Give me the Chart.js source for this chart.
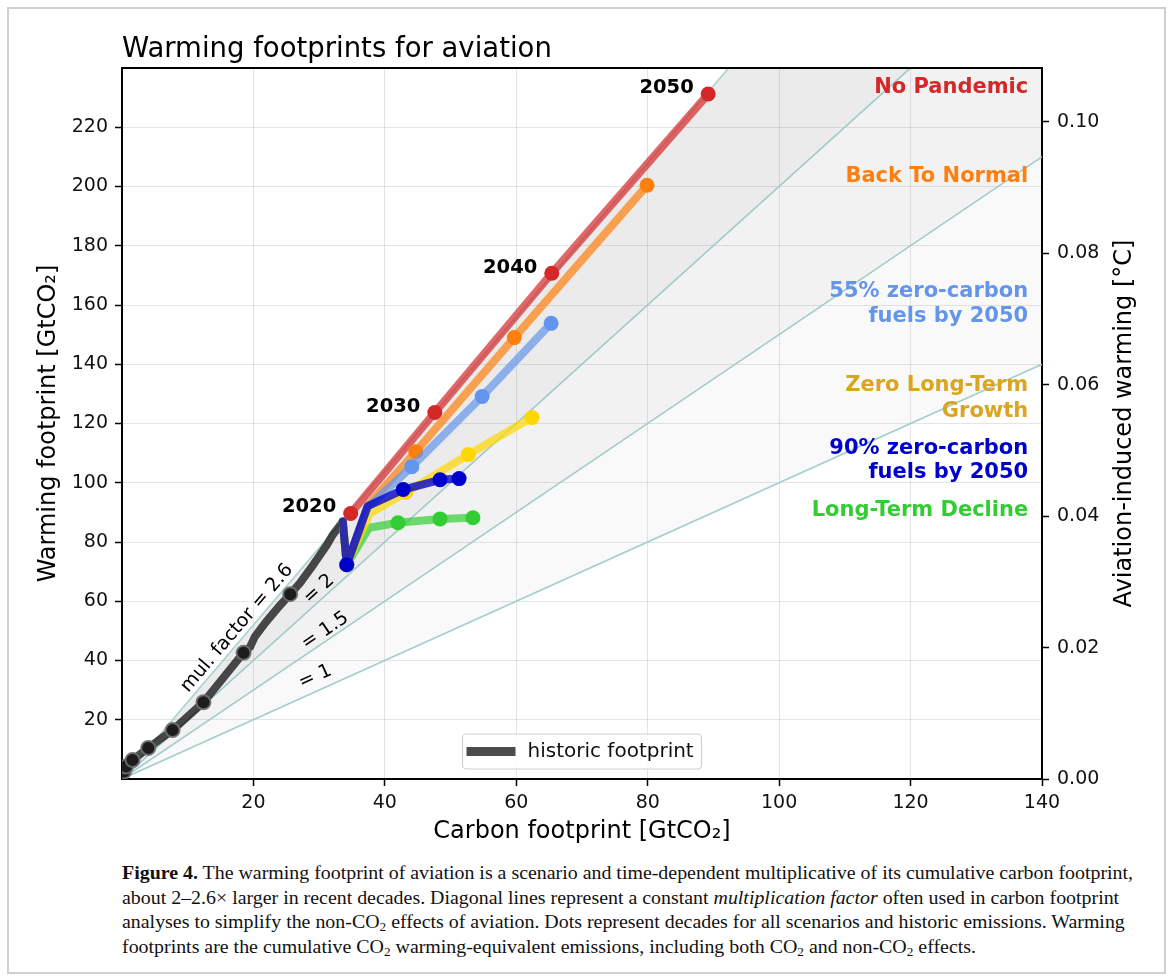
<!DOCTYPE html>
<html>
<head>
<meta charset="utf-8">
<script src="https://cdn.jsdelivr.net/npm/chart.js@4.4.1/dist/chart.umd.min.js"></script>
<style>
  html, body { margin: 0; padding: 0; background: #fff; }
  body { width: 1171px; height: 980px; position: relative; overflow: hidden; font-family: "DejaVu Sans", sans-serif; }
  #frame { position: absolute; left: 7px; top: 7px; width: 1155px; height: 963px; border: 2px solid #cfcfcf; }
  #wrap { position: absolute; left: 0; top: 0; width: 1171px; height: 860px; }
  #caption { position: absolute; left: 122px; top: 861px; font-family: "Liberation Serif", serif; font-size: 18px; line-height: 24.5px; color: #111; }
  #caption div { white-space: nowrap; transform-origin: left center; }
  #caption sub { font-size: 12px; line-height: 0; vertical-align: -3px; }
</style>
</head>
<body>
<div id="frame"></div>
<div id="wrap"><canvas id="chart" width="1171" height="860"></canvas></div>
<div id="caption">
  <div><b>Figure 4.</b> The warming footprint of aviation is a scenario and time-dependent multiplicative of its cumulative carbon footprint,</div>
  <div>about 2–2.6× larger in recent decades. Diagonal lines represent a constant <i>multiplication factor</i> often used in carbon footprint</div>
  <div>analyses to simplify the non-CO<sub>2</sub> effects of aviation. Dots represent decades for all scenarios and historic emissions. Warming</div>
  <div>footprints are the cumulative CO<sub>2</sub> warming-equivalent emissions, including both CO<sub>2</sub> and non-CO<sub>2</sub> effects.</div>
</div>
<script>
// ── data ──

const histX = [0, 0.3, 0.6, 1.6, 4.0, 7.7, 12.4, 18.5, 19.5, 20.2, 21.8, 24.0, 25.6, 27.1, 29.1, 31.2, 32.1, 33.6];
const histY = [0, 2.5, 4.2, 6.4, 10.5, 16.5, 25.9, 42.6, 44.6, 48.0, 52.7, 58.5, 62.4, 66.2, 72.3, 79.1, 82.5, 86.9];
const histDot = [0, 1, 1, 1, 1, 1, 1, 1, 0, 0, 0, 0, 1, 0, 0, 0, 0, 0];

// scenarios: 2019, 2020 (pandemic dip), 2021, 2030, 2040, 2050
const scenDot = [0, 1, 0, 1, 1, 1];
const normalX = [33.6, 34.2, 37.3, 44.7, 59.7, 79.9];
const normalY = [86.9, 72.3, 92.0, 110.5, 149.0, 200.4];
const zc55X = [33.6, 34.2, 37.3, 44.1, 54.8, 65.3];
const zc55Y = [86.9, 72.3, 91.5, 105.4, 129.1, 153.8];
const zeroGrowthX = [33.6, 34.2, 37.7, 43.2, 52.7, 62.4];
const zeroGrowthY = [86.9, 72.3, 89.6, 96.7, 109.5, 122.0];
const zc90X = [33.6, 34.2, 37.4, 42.8, 48.4, 51.3];
const zc90Y = [86.9, 72.3, 92.1, 97.7, 101.0, 101.4];
const declineX = [33.6, 34.2, 37.6, 42.0, 48.4, 53.4];
const declineY = [86.9, 72.3, 84.8, 86.5, 87.8, 88.2];
// no pandemic: 2020, 2030, 2040, 2050
const noPandX = [34.8, 47.6, 65.4, 89.2];
const noPandY = [89.6, 123.7, 170.7, 231.2];
const noPandDot = [1, 1, 1, 1];

const mulFactors = [2.6, 2, 1.5, 1];
const mulEndX = [0, 140];

const yearLabels = ["2020", "2030", "2040", "2050"];
const yearLabelX = [32.6, 45.4, 63.2, 87.0];
const yearLabelY = [91.8, 125.6, 172.5, 233.2];

const mulLabels = ["mul. factor = 2.6", "= 2", "= 1.5", "= 1"];
const mulLabelX = [17.5, 30.0, 30.9, 29.4];
const mulLabelY = [50.9, 64.1, 50.0, 34.5];

const scenNames = [["No Pandemic"], ["Back To Normal"], ["55% zero-carbon", "fuels by 2050"], ["Zero Long-Term", "Growth"], ["90% zero-carbon", "fuels by 2050"], ["Long-Term Decline"]];
const scenNameY = [[233.4], [203.4], [164.4, 156.0], [132.7, 124.2], [111.7, 103.6], [90.5]];
const scenNameColors = ["#d62728", "#ff7f0e", "#6495ed", "#daa520", "#0000cd", "#32cd32"];
const scenNameX = 137.9;

const xTicks = [20, 40, 60, 80, 100, 120, 140];
const yTicks = [20, 40, 60, 80, 100, 120, 140, 160, 180, 200, 220];
const tTicks = [0, 0.02, 0.04, 0.06, 0.08, 0.10];

// ── helpers ──

function pts(xs, ys) {
  return xs.map((x, i) => ({ x, y: ys[i] }));
}

function dotRadius(flags, r) {
  return (ctx) => (flags[ctx.dataIndex] ? r : 0);
}

function scenario(label, xs, ys, flags, line, dot, order) {
  return {
    label, data: pts(xs, ys), showLine: true, borderColor: line, borderWidth: 8,
    borderJoinStyle: "round", borderCapStyle: "round", tension: 0,
    pointRadius: dotRadius(flags, 7.5), pointHoverRadius: dotRadius(flags, 7.5),
    pointBackgroundColor: dot, pointBorderWidth: 0, order,
  };
}

function mulLine(f, i) {
  const fills = [{ target: 1 }, { target: 2 }, { target: 3 }, false];
  const shades = ["rgba(0,0,0,0.078)", "rgba(0,0,0,0.05)", "rgba(0,0,0,0.025)", "transparent"];
  return {
    label: "f" + f, data: pts(mulEndX, mulEndX.map((x) => x * f)), showLine: true,
    borderColor: "#a6d2d0", borderWidth: 1.6, pointRadius: 0, pointHoverRadius: 0,
    fill: fills[i], backgroundColor: shades[i], order: 20 + i,
  };
}

const FONT = "DejaVu Sans";
Chart.defaults.font.family = FONT;
Chart.defaults.color = "#000";

// ── text & frame overlay ──

const overlay = {
  id: "overlay",
  afterDatasetsDraw(chart) {
    const { ctx, chartArea: a, scales: { x, y } } = chart;
    ctx.save();

    // top spine
    ctx.strokeStyle = "#000";
    ctx.lineWidth = 2;
    ctx.beginPath();
    ctx.moveTo(a.left - 1, a.top);
    ctx.lineTo(a.right + 1, a.top);
    ctx.stroke();

    // title
    ctx.fillStyle = "#000";
    ctx.font = `27.5px "${FONT}"`;
    ctx.textAlign = "left";
    ctx.textBaseline = "alphabetic";
    ctx.fillText("Warming footprints for aviation", a.left, 57);

    // right axis title, reading upwards like the left one
    ctx.font = `24px "${FONT}"`;
    ctx.textAlign = "center";
    ctx.textBaseline = "middle";
    ctx.save();
    ctx.translate(1125, (a.top + a.bottom) / 2);
    ctx.rotate(-Math.PI / 2);
    ctx.fillText("Aviation-induced warming [°C]", 0, 0);
    ctx.restore();

    // multiplication factor labels, rotated along their lines
    ctx.font = `19px "${FONT}"`;
    mulLabels.forEach((t, i) => {
      const f = mulFactors[i];
      const ang = Math.atan2(y.getPixelForValue(f * 10) - y.getPixelForValue(0), x.getPixelForValue(10) - x.getPixelForValue(0));
      ctx.save();
      ctx.translate(x.getPixelForValue(mulLabelX[i]), y.getPixelForValue(mulLabelY[i]));
      ctx.rotate(ang);
      ctx.fillText(t, 0, 0);
      ctx.restore();
    });

    // decade labels
    ctx.font = `bold 19.5px "${FONT}"`;
    ctx.textAlign = "right";
    yearLabels.forEach((t, i) => {
      ctx.fillText(t, x.getPixelForValue(yearLabelX[i]), y.getPixelForValue(yearLabelY[i]));
    });

    // scenario names
    ctx.font = `bold 21px "${FONT}"`;
    scenNames.forEach((lines, i) => {
      ctx.fillStyle = scenNameColors[i];
      lines.forEach((t, j) => ctx.fillText(t, x.getPixelForValue(scenNameX), y.getPixelForValue(scenNameY[i][j])));
    });

    // legend (lower center)
    const w = 239, h = 35;
    const lx = (a.left + a.right) / 2 - w / 2, ly = a.bottom - 10 - h;
    ctx.fillStyle = "rgba(255,255,255,0.85)";
    ctx.strokeStyle = "#d0d0d0";
    ctx.lineWidth = 1.2;
    ctx.beginPath();
    ctx.roundRect(lx, ly, w, h, 4);
    ctx.fill();
    ctx.stroke();
    ctx.fillStyle = "rgba(0,0,0,0.7)";
    ctx.fillRect(lx + 4, ly + h / 2 - 4.5, 49, 9);
    ctx.fillStyle = "#111";
    ctx.font = `20px "${FONT}"`;
    ctx.textAlign = "left";
    ctx.fillText("historic footprint", lx + 65, ly + h / 2);

    ctx.restore();
  },
};

const tickFont = { size: 19 };

new Chart(document.getElementById("chart"), {
  type: "scatter",
  data: {
    datasets: [
      ...mulFactors.map(mulLine),
      {
        label: "historic footprint", data: pts(histX, histY), showLine: true,
        borderColor: "rgba(0,0,0,0.7)", borderWidth: 8, borderJoinStyle: "round", borderCapStyle: "round",
        pointRadius: dotRadius(histDot, 7), pointHoverRadius: dotRadius(histDot, 7),
        pointBackgroundColor: "#1c1c1c", pointBorderColor: "rgba(110,110,110,0.9)", pointBorderWidth: 2, order: 10,
      },
      scenario("No Pandemic", noPandX, noPandY, noPandDot, "rgba(214,39,40,0.7)", "#d62728", 6),
      scenario("Back To Normal", normalX, normalY, scenDot, "rgba(255,127,14,0.7)", "#ff7f0e", 5),
      scenario("55% zero-carbon fuels by 2050", zc55X, zc55Y, scenDot, "rgba(100,149,237,0.7)", "#6495ed", 4),
      scenario("Long-Term Decline", declineX, declineY, scenDot, "rgba(50,205,50,0.7)", "#32cd32", 3),
      scenario("Zero Long-Term Growth", zeroGrowthX, zeroGrowthY, scenDot, "rgba(255,215,0,0.7)", "#ffd700", 2),
      scenario("90% zero-carbon fuels by 2050", zc90X, zc90Y, scenDot, "rgba(0,0,205,0.78)", "#0000cd", 1),
    ],
  },
  options: {
    responsive: false,
    animation: false,
    devicePixelRatio: 1,
    layout: { padding: { top: 68, left: 0, right: 0, bottom: 0 } },
    plugins: { legend: { display: false }, tooltip: { enabled: false } },
    scales: {
      x: {
        type: "linear", position: "bottom", min: 0, max: 140,
        afterBuildTicks: (s) => { s.ticks = xTicks.map((v) => ({ value: v })); },
        afterFit: (s) => { s.height = 81; },
        ticks: { font: tickFont, color: "#111", padding: 6, maxRotation: 0 },
        grid: { color: "rgba(0,0,0,0.1)", lineWidth: 1, tickColor: "#000", tickLength: 7, tickWidth: 1.5 },
        border: { display: true, color: "#000", width: 2 },
        title: { display: true, text: "Carbon footprint [GtCO₂]", font: { size: 24 }, color: "#000", padding: { top: 0, bottom: 14 } },
      },
      y: {
        type: "linear", position: "left", min: 0, max: 240,
        afterBuildTicks: (s) => { s.ticks = yTicks.map((v) => ({ value: v })); },
        afterFit: (s) => { s.width = 122; },
        ticks: { font: tickFont, color: "#111", padding: 7 },
        grid: { color: "rgba(0,0,0,0.1)", lineWidth: 1, tickColor: "#000", tickLength: 7, tickWidth: 1.5 },
        border: { display: true, color: "#000", width: 2 },
        title: { display: true, text: "Warming footprint [GtCO₂]", font: { size: 24 }, color: "#000", padding: { top: 34, bottom: 0 } },
      },
      t: {
        type: "linear", position: "right", min: 0, max: 0.1082,
        afterBuildTicks: (s) => { s.ticks = tTicks.map((v) => ({ value: v })); },
        afterFit: (s) => { s.width = 129; },
        ticks: { font: tickFont, color: "#111", padding: 8, callback: (v) => v.toFixed(2) },
        grid: { drawOnChartArea: false, tickColor: "#000", tickLength: 7, tickWidth: 1.5 },
        border: { display: true, color: "#000", width: 2 },
        title: { display: false },
      },
    },
  },
  plugins: [overlay],
});

// squeeze caption lines to the width of the original typesetting
const capLines = document.querySelectorAll("#caption div");
const k = 1011 / capLines[0].getBoundingClientRect().width;
capLines.forEach((d) => { d.style.transform = `scaleX(${k})`; });
</script>
</body>
</html>
